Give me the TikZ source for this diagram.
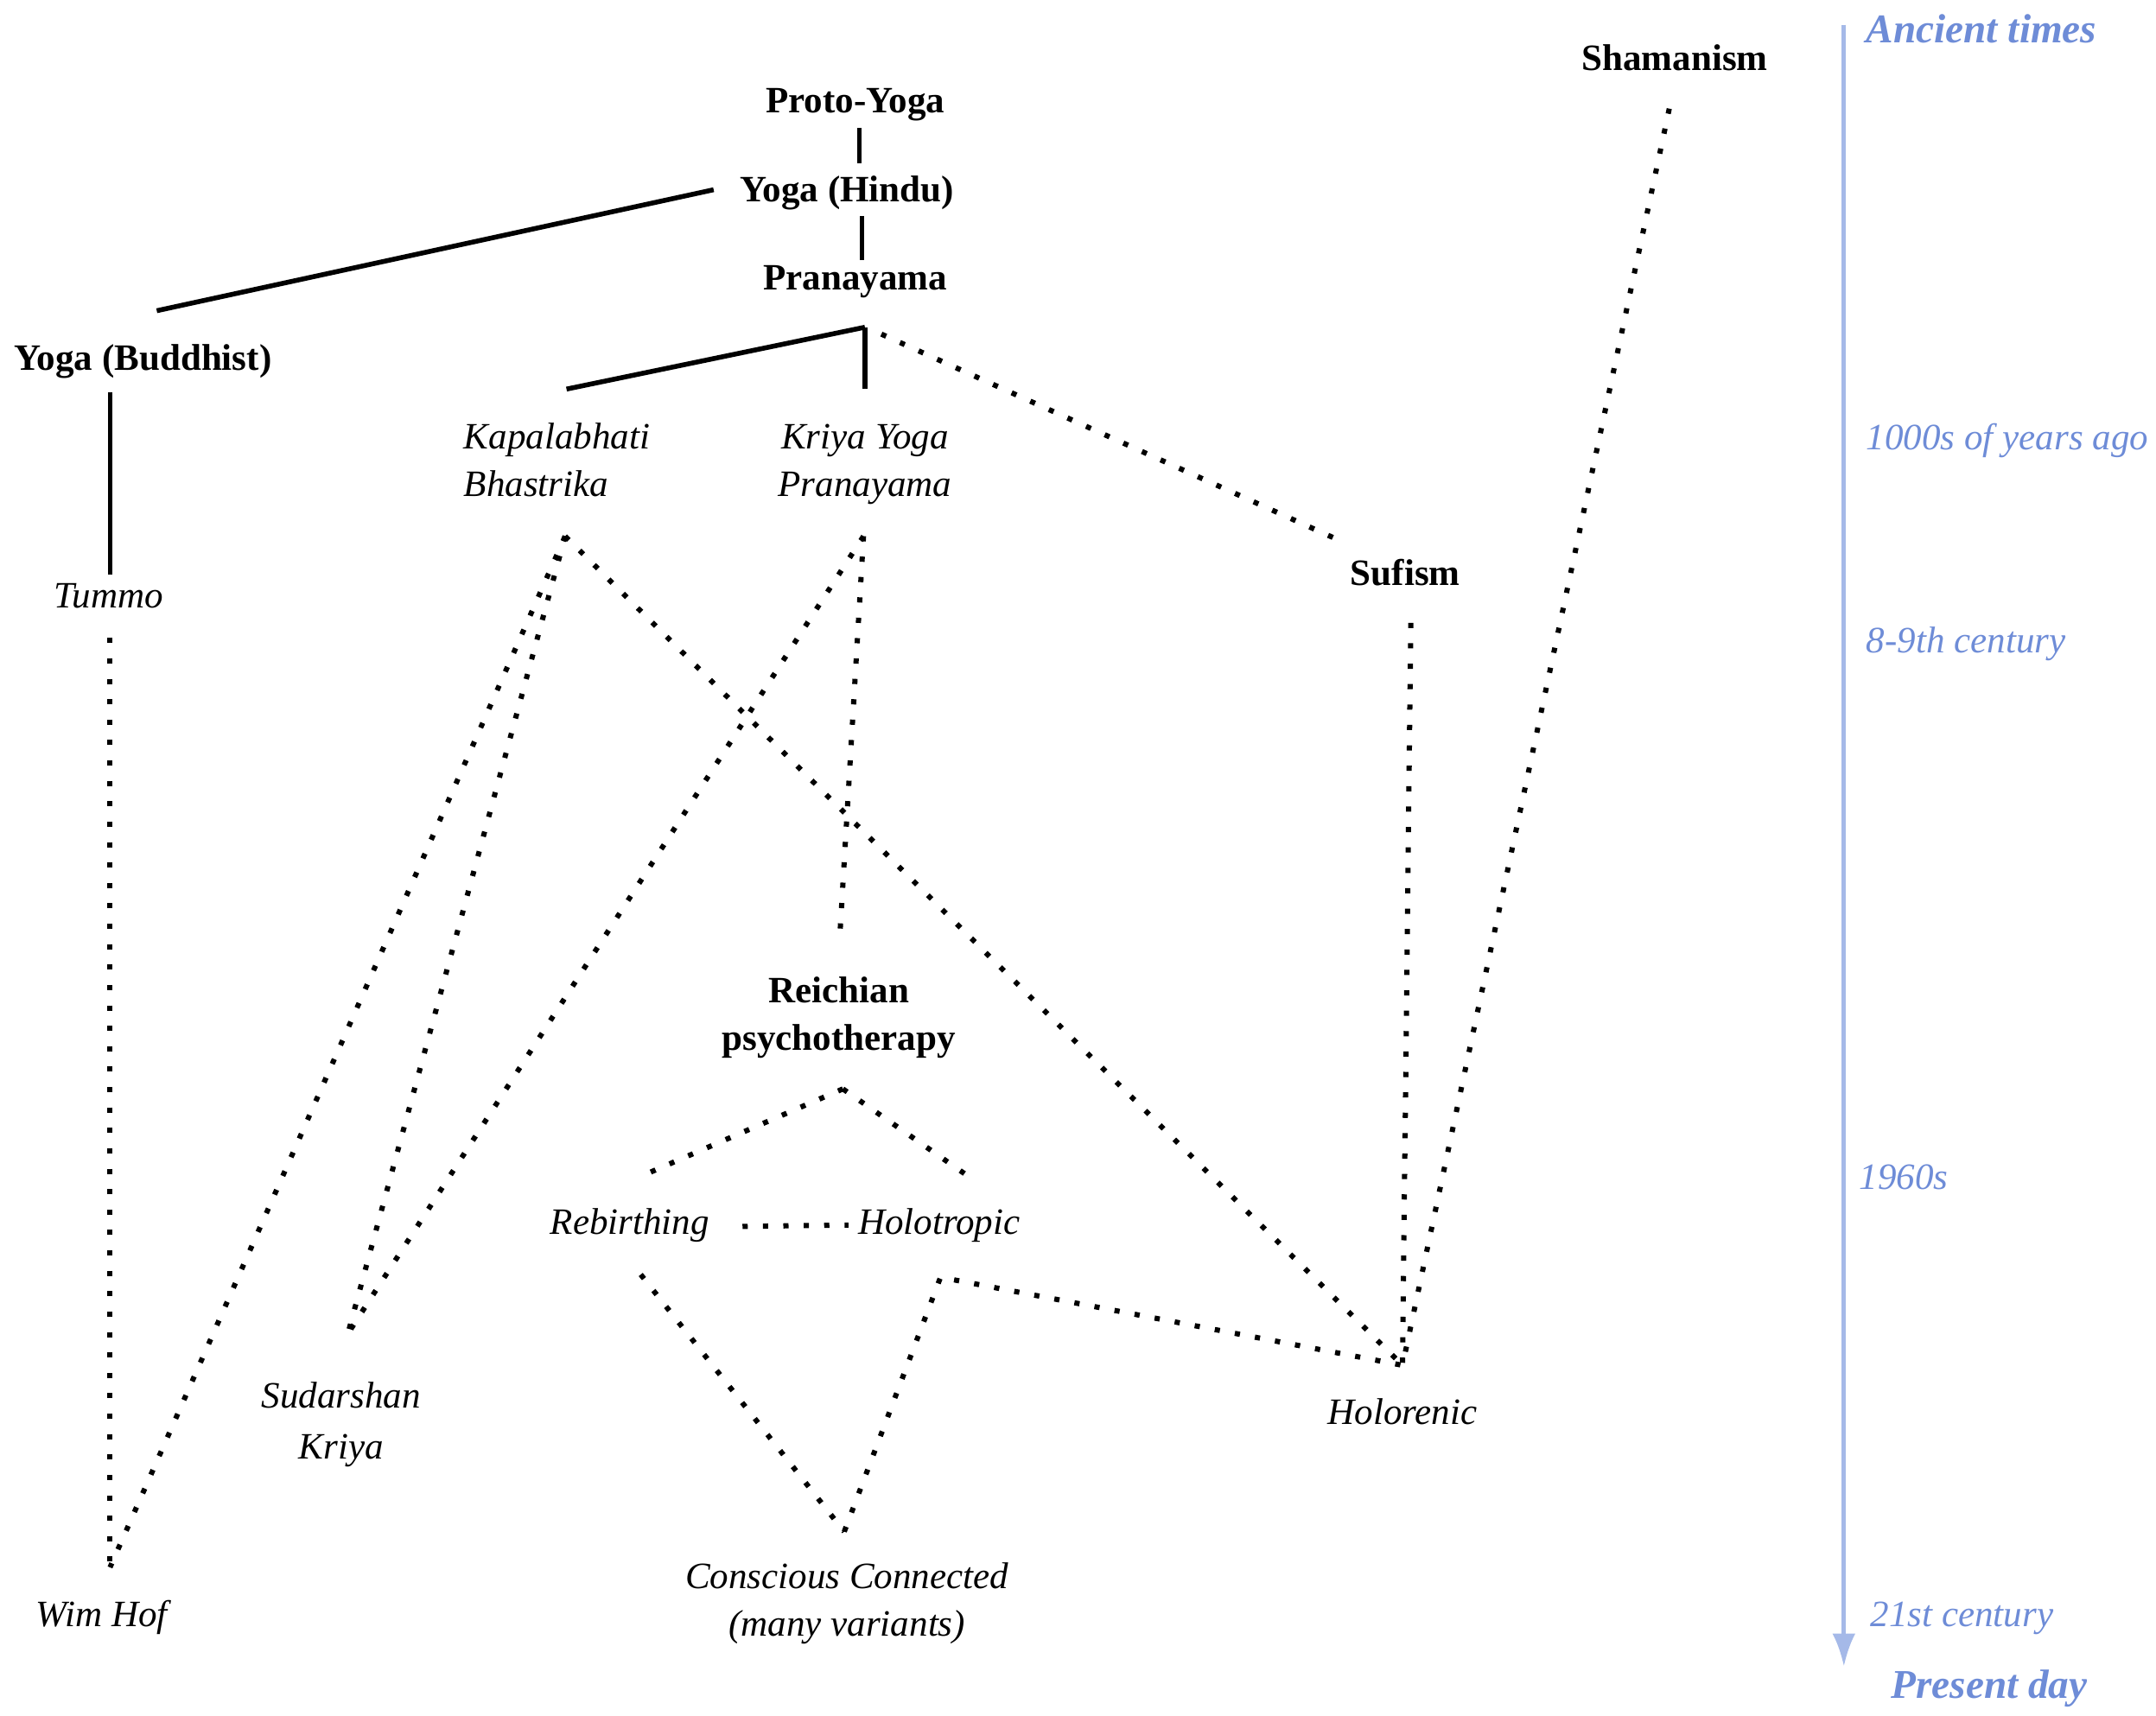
\documentclass[tikz,border=0pt]{standalone}
\usepackage{fontspec}
\setmainfont{Liberation Serif}
\usetikzlibrary{arrows.meta}
\definecolor{timeblue}{RGB}{110,140,215}
\definecolor{lineblue}{RGB}{165,185,232}
\tikzstyle{school} = [font=\bfseries, anchor=base, inner sep=0pt, align=center]
\tikzstyle{method} = [font=\itshape, anchor=base, inner sep=0pt, align=center]
\tikzstyle{era} = [font=\itshape, text=timeblue, anchor=base west, inner sep=0pt]
\tikzstyle{eraend} = [font=\fontsize{16.9}{20}\selectfont\bfseries\itshape, text=timeblue, anchor=base west, inner sep=0pt]
\tikzstyle{tree} = [line width=2pt]
\tikzstyle{link} = [line width=2.15pt, dash pattern=on 2.15pt off 6.3pt]
\tikzstyle{timearrow} = [line width=1.7pt, draw=lineblue, -{Latex[length=13.6pt, width=9.6pt]}]

\begin{document}
\fontsize{15.4}{19.8}\selectfont
\begin{tikzpicture}[x=0.02cm, y=-0.02cm]
	\useasboundingbox (0,0) rectangle (1568,1248);

	% schools
	\node (proto) [school] at (622,82) {Proto-Yoga};
	\node (hindu) [school] at (616,147) {Yoga (Hindu)};
	\node (pran) [school] at (622,211) {Pranayama};
	\node (ybud) [school] at (104,269) {Yoga (Buddhist)};
	\node (sufism) [school] at (1022,426) {Sufism};
	\node (shaman) [school] at (1218,51) {Shamanism};
	\node (reich) [school] at (610,764) {Reichian\\psychotherapy};	% base = last line

	% breathing methods
	\node (kap) [method, anchor=base west, align=left] at (337,361) {Kapalabhati\\Bhastrika};
	\node (kriya) [method] at (629,361) {Kriya Yoga\\Pranayama};
	\node (tummo) [method] at (79,442) {Tummo};
	\node (rebirth) [method] at (458,898) {Rebirthing};
	\node (holot) [method] at (683,898) {Holotropic};
	\node (sudar) [method] at (248,1061) {Sudarshan\\[1.2pt]Kriya};
	\node (holor) [method] at (1020,1036) {Holorenic};
	\node (wimhof) [method] at (74,1183) {Wim Hof};
	\node (consc) [method] at (616,1190) {Conscious Connected\\(many variants)};

	% timeline
	\node (t0) [eraend] at (1357,31) {Ancient times};
	\node (t1) [era] at (1357,327) {1000s of years ago};
	\node (t2) [era] at (1357,475) {8-9th century};
	\node (t3) [era] at (1352,865) {1960s};
	\node (t4) [era] at (1360,1183) {21st century};
	\node (t5) [eraend] at (1375,1235) {Present day};

	% line ends
	\coordinate (proto-s) at (625,93);
	\coordinate (hindu-n) at (625,119);
	\coordinate (hindu-s) at (627,157);
	\coordinate (hindu-w) at (519,138);
	\coordinate (pran-n) at (627,189);
	\coordinate (pran-s) at (629,238);
	\coordinate (pran-e) at (641,243);
	\coordinate (ybud-n) at (114,226);
	\coordinate (ybud-s) at (80,285);
	\coordinate (kap-n) at (412,283);
	\coordinate (kap-s) at (411,390);
	\coordinate (kriya-n) at (629,283);
	\coordinate (kriya-s) at (628,390);
	\coordinate (tummo-n) at (80,418);
	\coordinate (tummo-s) at (80,464);
	\coordinate (sufism-n) at (974,393);
	\coordinate (sufism-s) at (1026,453);
	\coordinate (shaman-s) at (1214,79);
	\coordinate (reich-n) at (611,677);
	\coordinate (reich-s) at (613,792);
	\coordinate (rebirth-n) at (472,853);
	\coordinate (rebirth-e) at (540,892);
	\coordinate (rebirth-s) at (466,927);
	\coordinate (holot-n) at (702,854);
	\coordinate (holot-w) at (617,891);
	\coordinate (holot-s) at (684,929);
	\coordinate (sudar-n) at (253,970);
	\coordinate (holor-n) at (1020,993);
	\coordinate (wimhof-n) at (80,1140);
	\coordinate (consc-n) at (614,1114);
	\coordinate (t-top) at (1341,18);
	\coordinate (t-end) at (1341,1212);

	\draw [tree] (proto-s) -- (hindu-n);
	\draw [tree] (hindu-s) -- (pran-n);
	\draw [tree] (hindu-w) -- (ybud-n);
	\draw [tree] (pran-s) -- (kap-n);
	\draw [tree] (pran-s) -- (kriya-n);
	\draw [tree, line width=1.6pt] (ybud-s) -- (tummo-n);

	\draw [link] (pran-e) -- (sufism-n);
	\draw [link] (shaman-s) -- (holor-n);
	\draw [link] (sufism-s) -- (holor-n);
	\draw [link] (tummo-s) -- (wimhof-n);
	\draw [link] (kap-s) -- (wimhof-n);
	\draw [link] (kap-s) -- (sudar-n);
	\draw [link] (kap-s) -- (holor-n);
	\draw [link] (kriya-s) -- (sudar-n);
	\draw [link] (kriya-s) -- (reich-n);
	\draw [link] (reich-s) -- (rebirth-n);
	\draw [link] (reich-s) -- (holot-n);
	\draw [link] (rebirth-e) -- (holot-w);
	\draw [link] (rebirth-s) -- (consc-n);
	\draw [link] (consc-n) -- (holot-s) -- (holor-n);

	\draw [timearrow] (t-top) -- (t-end);
\end{tikzpicture}
\end{document}
